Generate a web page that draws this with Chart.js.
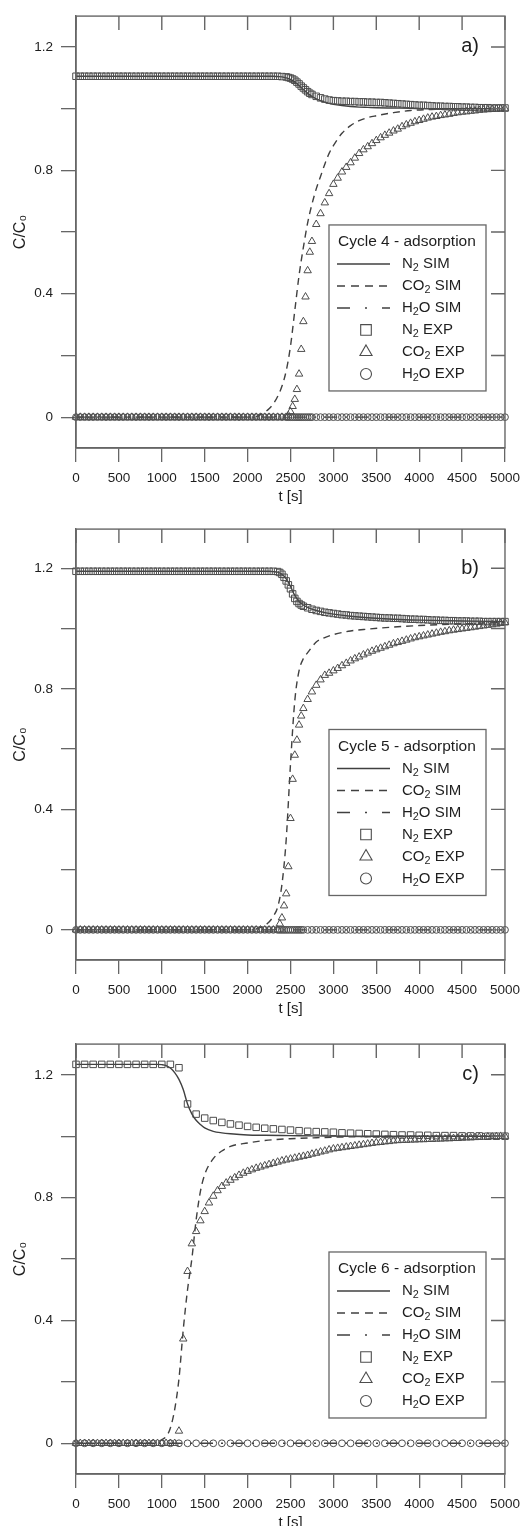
<!DOCTYPE html>
<html>
<head>
<meta charset="utf-8">
<title>C/C0 breakthrough curves, cycles 4-6</title>
<script src="https://cdn.jsdelivr.net/npm/chart.js@4.4.1/dist/chart.umd.min.js"></script>
<style>
  html, body { margin: 0; padding: 0; background: #fff; }
  body { width: 528px; height: 1526px; overflow: hidden; position: relative; }
  canvas { position: absolute; left: 0; }
</style>
</head>
<body>
<canvas id="cycle4" width="528" height="510" style="top:0px"></canvas>
<canvas id="cycle5" width="528" height="509" style="top:513px"></canvas>
<canvas id="cycle6" width="528" height="508" style="top:1028px"></canvas>
<script>
// ---- axis ticks / labels ----
const xTicks = [0, 500, 1000, 1500, 2000, 2500, 3000, 3500, 4000, 4500, 5000];
const yTicks = [0, 0.2, 0.4, 0.6, 0.8, 1.0, 1.2];
const yTickLabels = ['0', '', '0.4', '', '0.8', '', '1.2'];
const legendLabels = ['N2 SIM', 'CO2 SIM', 'H2O SIM', 'N2 EXP', 'CO2 EXP', 'H2O EXP'];

// ---- cycle 4 (a) ----
const timeA = [0,50,100,150,200,250,300,350,400,450,
  500,550,600,650,700,750,800,850,900,950,
  1000,1050,1100,1150,1200,1250,1300,1350,1400,1450,
  1500,1550,1600,1650,1700,1750,1800,1850,1900,1950,
  2000,2050,2100,2150,2200,2250,2300,2350,2400,2450,
  2475,2500,2525,2550,2575,2600,2625,2650,2675,2700,2725,2750,
  2800,2850,2900,2950,3000,3050,3100,3150,3200,3250,
  3300,3350,3400,3450,3500,3550,3600,3650,3700,3750,
  3800,3850,3900,3950,4000,4050,4100,4150,4200,4250,
  4300,4350,4400,4450,4500,4550,4600,4650,4700,4750,
  4800,4850,4900,4950,5000];
const n2ExpA = [1.105,1.105,1.105,1.105,1.105,1.105,1.105,1.105,1.105,1.105,
  1.105,1.105,1.105,1.105,1.105,1.105,1.105,1.105,1.105,1.105,
  1.105,1.105,1.105,1.105,1.105,1.105,1.105,1.105,1.105,1.105,
  1.105,1.105,1.105,1.105,1.105,1.105,1.105,1.105,1.105,1.105,
  1.105,1.105,1.105,1.105,1.105,1.105,1.105,1.105,1.104,1.103,
  1.101,1.099,1.096,1.092,1.086,1.08,1.073,1.067,1.061,1.055,1.05,1.046,
  1.04,1.035,1.031,1.028,1.026,1.025,1.024,1.024,1.023,1.023,
  1.022,1.022,1.021,1.021,1.02,1.02,1.019,1.018,1.017,1.016,
  1.015,1.014,1.013,1.012,1.011,1.011,1.01,1.009,1.008,1.008,
  1.007,1.007,1.006,1.006,1.005,1.005,1.004,1.004,1.003,1.003,
  1.003,1.002,1.002,1.002,1.002];
const co2ExpA = [0,0,0,0,0,0,0,0,0,0,
  0,0,0,0,0,0,0,0,0,0,
  0,0,0,0,0,0,0,0,0,0,
  0,0,0,0,0,0,0,0,0,0,
  0,0,0,0,0,0,0,0,0,0,
  0.005,0.018,0.035,0.058,0.09,0.14,0.22,0.31,0.39,0.475,0.535,0.57,
  0.625,0.66,0.695,0.725,0.755,0.775,0.795,0.81,0.825,0.84,
  0.855,0.867,0.877,0.887,0.897,0.906,0.914,0.921,0.928,0.934,
  0.942,0.948,0.953,0.958,0.962,0.966,0.97,0.973,0.975,0.978,
  0.98,0.982,0.985,0.987,0.989,0.99,0.992,0.993,0.995,0.996,
  0.997,0.998,0.999,1.0,1.0];
const h2oExpA = [0,0,0,0,0,0,0,0,0,0,
  0,0,0,0,0,0,0,0,0,0,
  0,0,0,0,0,0,0,0,0,0,
  0,0,0,0,0,0,0,0,0,0,
  0,0,0,0,0,0,0,0,0,0,
  0,0,0,0,0,0,0,0,0,0,0,0,
  0,0,0,0,0,0,0,0,0,0,
  0,0,0,0,0,0,0,0,0,0,
  0,0,0,0,0,0,0,0,0,0,
  0,0,0,0,0,0,0,0,0,0,
  0,0,0,0,0];
const simTimeA = [0,1000,2000,2100,2150,2200,2250,2300,2350,2400,2450,2500,2550,2600,2650,2700,
  2750,2800,2850,2900,2950,3000,3100,3200,3300,3400,3500,3700,3900,4200,4500,5000];
const n2SimA = [1.105,1.105,1.105,1.105,1.105,1.105,1.105,1.105,1.104,1.103,1.1,1.095,1.087,1.075,1.062,1.05,
  1.04,1.032,1.026,1.021,1.017,1.014,1.01,1.007,1.005,1.004,1.003,1.002,1.001,1.0,1.0,1.0];
const co2SimA = [0,0,0,0.002,0.008,0.016,0.027,0.043,0.067,0.1,0.15,0.23,0.345,0.46,0.55,0.63,
  0.69,0.74,0.78,0.82,0.855,0.88,0.92,0.945,0.961,0.971,0.977,0.987,0.994,0.998,1.0,1.0];
const h2oSimA = [0,0,0,0,0,0,0,0,0,0,0,0,0,0,0,0,
  0,0,0,0,0,0,0,0,0,0,0,0,0,0,0,0];

// ---- cycle 5 (b) ----
const timeB = [0,50,100,150,200,250,300,350,400,450,
  500,550,600,650,700,750,800,850,900,950,
  1000,1050,1100,1150,1200,1250,1300,1350,1400,1450,
  1500,1550,1600,1650,1700,1750,1800,1850,1900,1950,
  2000,2050,2100,2150,2200,2250,2300,2350,
  2375,2400,2425,2450,2475,2500,2525,2550,2575,2600,2625,2650,
  2700,2750,2800,2850,2900,2950,3000,3050,3100,3150,
  3200,3250,3300,3350,3400,3450,3500,3550,3600,3650,
  3700,3750,3800,3850,3900,3950,4000,4050,4100,4150,
  4200,4250,4300,4350,4400,4450,4500,4550,4600,4650,
  4700,4750,4800,4850,4900,4950,5000];
const n2ExpB = [1.19,1.19,1.19,1.19,1.19,1.19,1.19,1.19,1.19,1.19,
  1.19,1.19,1.19,1.19,1.19,1.19,1.19,1.19,1.19,1.19,
  1.19,1.19,1.19,1.19,1.19,1.19,1.19,1.19,1.19,1.19,
  1.19,1.19,1.19,1.19,1.19,1.19,1.19,1.19,1.19,1.19,
  1.19,1.19,1.19,1.19,1.19,1.19,1.19,1.189,
  1.186,1.18,1.17,1.158,1.145,1.132,1.115,1.1,1.09,1.083,1.078,1.074,
  1.069,1.064,1.06,1.057,1.054,1.052,1.05,1.048,1.046,1.045,
  1.043,1.042,1.041,1.04,1.039,1.038,1.037,1.036,1.035,1.035,
  1.034,1.034,1.033,1.032,1.031,1.031,1.03,1.03,1.029,1.028,
  1.028,1.027,1.027,1.026,1.026,1.025,1.025,1.025,1.024,1.024,
  1.024,1.023,1.023,1.023,1.023,1.023,1.023];
const co2ExpB = [0,0,0,0,0,0,0,0,0,0,
  0,0,0,0,0,0,0,0,0,0,
  0,0,0,0,0,0,0,0,0,0,
  0,0,0,0,0,0,0,0,0,0,
  0,0,0,0,0,0,0,0,
  0.02,0.04,0.08,0.12,0.21,0.37,0.5,0.58,0.63,0.68,0.71,0.735,
  0.765,0.79,0.812,0.83,0.845,0.852,0.86,0.868,0.877,0.885,
  0.893,0.9,0.906,0.913,0.919,0.925,0.93,0.935,0.94,0.945,
  0.95,0.954,0.958,0.962,0.966,0.97,0.973,0.976,0.979,0.982,
  0.985,0.988,0.99,0.993,0.995,0.997,0.999,1.001,1.003,1.005,
  1.007,1.009,1.011,1.013,1.015,1.017,1.02];
const h2oExpB = [0,0,0,0,0,0,0,0,0,0,
  0,0,0,0,0,0,0,0,0,0,
  0,0,0,0,0,0,0,0,0,0,
  0,0,0,0,0,0,0,0,0,0,
  0,0,0,0,0,0,0,0,
  0,0,0,0,0,0,0,0,0,0,0,0,
  0,0,0,0,0,0,0,0,0,0,
  0,0,0,0,0,0,0,0,0,0,
  0,0,0,0,0,0,0,0,0,0,
  0,0,0,0,0,0,0,0,0,0,
  0,0,0,0,0,0,0];
const simTimeB = [0,1000,2000,2100,2150,2200,2250,2300,2350,2400,2450,2500,2550,2600,2650,2700,
  2800,2900,3000,3200,3400,3700,4000,4500,5000];
const n2SimB = [1.19,1.19,1.19,1.19,1.19,1.19,1.19,1.189,1.187,1.18,1.165,1.14,1.11,1.09,1.078,1.07,
  1.06,1.053,1.048,1.041,1.036,1.031,1.028,1.025,1.023];
const co2SimB = [0,0,0,0.003,0.008,0.015,0.026,0.045,0.075,0.15,0.3,0.55,0.76,0.86,0.9,0.92,
  0.955,0.97,0.98,0.992,0.998,1.005,1.01,1.016,1.02];
const h2oSimB = [0,0,0,0,0,0,0,0,0,0,0,0,0,0,0,0,
  0,0,0,0,0,0,0,0,0];

// ---- cycle 6 (c) ----
const timeC = [0,100,200,300,400,500,600,700,800,900,
  1000,1100,1200,1300,1400,1500,1600,1700,1800,1900,
  2000,2100,2200,2300,2400,2500,2600,2700,2800,2900,
  3000,3100,3200,3300,3400,3500,3600,3700,3800,3900,
  4000,4100,4200,4300,4400,4500,4600,4700,4800,4900,
  5000];
const n2ExpC = [1.234,1.234,1.234,1.234,1.234,1.234,1.234,1.234,1.234,1.234,
  1.234,1.234,1.223,1.105,1.072,1.059,1.051,1.045,1.04,1.036,
  1.032,1.029,1.026,1.024,1.022,1.02,1.018,1.016,1.015,1.014,
  1.013,1.011,1.01,1.009,1.008,1.007,1.006,1.005,1.004,1.004,
  1.003,1.003,1.002,1.002,1.002,1.001,1.001,1.001,1.0,1.0,
  1.0];
const h2oExpC = [0,0,0,0,0,0,0,0,0,0,
  0,0,0,0,0,0,0,0,0,0,
  0,0,0,0,0,0,0,0,0,0,
  0,0,0,0,0,0,0,0,0,0,
  0,0,0,0,0,0,0,0,0,0,
  0];
const timeC50 = [0,50,100,150,200,250,300,350,400,450,
  500,550,600,650,700,750,800,850,900,950,
  1000,1050,1100,1150,1200,1250,1300,1350,1400,1450,
  1500,1550,1600,1650,1700,1750,1800,1850,1900,1950,
  2000,2050,2100,2150,2200,2250,2300,2350,2400,2450,
  2500,2550,2600,2650,2700,2750,2800,2850,2900,2950,
  3000,3050,3100,3150,3200,3250,3300,3350,3400,3450,
  3500,3550,3600,3650,3700,3750,3800,3850,3900,3950,
  4000,4050,4100,4150,4200,4250,4300,4350,4400,4450,
  4500,4550,4600,4650,4700,4750,4800,4850,4900,4950,
  5000];
const co2ExpC = [0,0,0,0,0,0,0,0,0,0,
  0,0,0,0,0,0,0,0,0,0,
  0,0,0,0,0.04,0.34,0.56,0.65,0.69,0.725,
  0.755,0.783,0.805,0.823,0.837,0.848,0.857,0.865,0.873,0.88,
  0.886,0.891,0.896,0.9,0.904,0.908,0.912,0.916,0.92,0.923,
  0.926,0.929,0.932,0.935,0.938,0.942,0.945,0.949,0.952,0.956,
  0.959,0.961,0.963,0.965,0.967,0.969,0.971,0.973,0.975,0.977,
  0.979,0.98,0.982,0.983,0.985,0.986,0.987,0.987,0.988,0.988,
  0.989,0.989,0.99,0.99,0.991,0.991,0.992,0.992,0.993,0.993,
  0.994,0.995,0.995,0.996,0.997,0.997,0.998,0.999,0.999,1.0,
  1.0];
const simTimeC = [0,500,900,950,1000,1050,1100,1150,1200,1250,1300,1350,1400,1450,1500,1600,
  1700,1800,2000,2200,2500,2800,3200,3600,4000,5000];
const n2SimC = [1.234,1.234,1.234,1.234,1.233,1.23,1.222,1.207,1.185,1.152,1.105,1.073,1.052,1.038,1.027,1.016,
  1.011,1.008,1.004,1.003,1.002,1.001,1.0,1.0,1.0,1.0];
const co2SimC = [0,0,0,0.002,0.012,0.022,0.05,0.11,0.21,0.37,0.5,0.6,0.727,0.82,0.875,0.927,
  0.952,0.967,0.978,0.986,0.992,0.995,0.998,1.0,1.0,1.0];
const h2oSimC = [0,0,0,0,0,0,0,0,0,0,0,0,0,0,0,0,
  0,0,0,0,0,0,0,0,0,0];

// ---- styling ----
const FONT = '"Liberation Sans", Arial, Helvetica, sans-serif';
const INK = '#1e1e1e';
const AXIS = '#666';
const LINE = '#404040';
const MARK = '#4d4d4d';

function pts(xs, ys) {
  return xs.map((x, i) => ({ x: x, y: ys[i] }));
}

// chemical formulas: digit right after a capital letter goes down as subscript
function drawChem(ctx, text, x, y, size) {
  const parts = text.split(/(?<=[A-Z])(\d)/);
  parts.forEach((p, i) => {
    const sub = i % 2 === 1;
    ctx.font = (sub ? size * 0.72 : size) + 'px ' + FONT;
    ctx.fillText(p, x, sub ? y + size * 0.3 : y);
    x += ctx.measureText(p).width;
  });
}

// frame, mirrored ticks on top/right, panel letter and boxed legend
const panelDecor = {
  id: 'panelDecor',
  afterDraw(chart, args, o) {
    const { ctx, chartArea: a, scales: { x, y } } = chart;
    ctx.save();
    ctx.strokeStyle = AXIS;
    ctx.lineWidth = 1.4;
    ctx.strokeRect(a.left, a.top, a.right - a.left, a.bottom - a.top);
    ctx.beginPath();
    x.ticks.forEach(t => {
      const px = x.getPixelForValue(t.value);
      ctx.moveTo(px, a.top);
      ctx.lineTo(px, a.top + 14);
    });
    y.ticks.forEach(t => {
      const py = y.getPixelForValue(t.value);
      ctx.moveTo(a.right, py);
      ctx.lineTo(a.right - 14, py);
    });
    ctx.stroke();

    ctx.fillStyle = INK;
    ctx.textAlign = 'right';
    ctx.textBaseline = 'middle';
    ctx.font = '20px ' + FONT;
    ctx.fillText(o.letter, a.right - 26, y.getPixelForValue(1.2));

    // legend box
    const L = a.left + 253, T = y.getPixelForValue(o.legendTop), W = 157, H = 166;
    ctx.fillStyle = '#fff';
    ctx.fillRect(L, T, W, H);
    ctx.strokeStyle = AXIS;
    ctx.lineWidth = 1.3;
    ctx.strokeRect(L, T, W, H);
    ctx.textAlign = 'left';
    ctx.fillStyle = INK;
    drawChem(ctx, o.title, L + 9, T + 17, 15.5);
    chart.data.datasets.forEach((ds, i) => {
      const cy = T + 39 + i * 22;
      if (ds.showLine) {
        ctx.strokeStyle = ds.borderColor;
        ctx.lineWidth = ds.borderWidth;
        ctx.setLineDash(ds.legendDash || []);
        ctx.beginPath();
        ctx.moveTo(L + 8, cy);
        ctx.lineTo(L + 61, cy);
        ctx.stroke();
        ctx.setLineDash([]);
      } else {
        ctx.strokeStyle = ds.pointBorderColor;
        ctx.fillStyle = 'rgba(0,0,0,0)';
        ctx.lineWidth = 1.1;
        Chart.helpers.drawPoint(ctx, { pointStyle: ds.pointStyle, radius: ds.legendRadius, borderWidth: 1.1, rotation: 0 }, L + 37, cy);
      }
      ctx.fillStyle = INK;
      drawChem(ctx, ds.label, L + 73, cy, 15);
    });
    ctx.restore();
  }
};

function buildChart(id, p) {
  const lineSet = (label, ys, dash, legendDash) => ({
    label: label, data: pts(p.simTime, ys), showLine: true, borderColor: LINE, borderWidth: 1.4,
    borderDash: dash, legendDash: legendDash, pointRadius: 0, order: 1, cubicInterpolationMode: 'monotone'
  });
  const markSet = (label, xs, ys, style, r, lr) => ({
    label: label, data: pts(xs, ys), showLine: false, pointStyle: style, pointRadius: r, legendRadius: lr,
    pointBorderWidth: 1, borderColor: MARK, pointBorderColor: MARK,
    backgroundColor: 'rgba(0,0,0,0)', pointBackgroundColor: 'rgba(0,0,0,0)', order: 0, clip: false
  });
  const datasets = [
    lineSet(legendLabels[0], p.n2Sim, [], []),
    lineSet(legendLabels[1], p.co2Sim, [7, 5], [8, 6]),
    lineSet(legendLabels[2], p.h2oSim, [13, 8, 2, 8], [13, 15, 2, 15]),
    markSet(legendLabels[3], p.n2Time, p.n2Exp, 'rect', 4.6, 7.5),
    markSet(legendLabels[4], p.co2Time, p.co2Exp, 'triangle', 4.3, 7),
    markSet(legendLabels[5], p.h2oTime, p.h2oExp, 'circle', 3.4, 5.5)
  ];

  return new Chart(document.getElementById(id), {
    type: 'scatter',
    data: { datasets: datasets },
    options: {
      responsive: false,
      animation: false,
      events: [],
      layout: { padding: { top: 14, right: 22, bottom: 0, left: 0 } },
      plugins: {
        legend: { display: false },
        tooltip: { enabled: false },
        panelDecor: { letter: p.letter, title: p.title, legendTop: p.legendTop }
      },
      scales: {
        x: {
          type: 'linear', min: 0, max: 5000,
          afterBuildTicks: s => { s.ticks = xTicks.map(v => ({ value: v })); },
          afterFit: s => { s.height = 62; },
          grid: { drawOnChartArea: false, drawTicks: true, tickLength: 14, color: AXIS, lineWidth: 1.3 },
          border: { display: true, color: AXIS, width: 1.4 },
          ticks: { color: INK, font: { family: FONT, size: 13.5 }, padding: 8, maxRotation: 0, autoSkip: false,
                   callback: v => String(v) },
          title: { display: true, text: 't [s]', color: INK, font: { family: FONT, size: 15 }, padding: { top: 0, bottom: 4 } }
        },
        y: {
          type: 'linear', min: p.yMin, max: p.yMax,
          afterBuildTicks: s => { s.ticks = yTicks.map(v => ({ value: v })); },
          afterFit: s => { s.width = 76; },
          grid: { drawOnChartArea: false, drawTicks: true, tickLength: 15, color: AXIS, lineWidth: 1.3 },
          border: { display: true, color: AXIS, width: 1.4 },
          ticks: { color: INK, font: { family: FONT, size: 13.5 }, padding: 8, autoSkip: false,
                   callback: (v, i) => yTickLabels[i] },
          title: { display: true, text: 'C/C₀', color: INK, font: { family: FONT, size: 16 }, padding: { top: 11, bottom: 0 } }
        }
      }
    },
    plugins: [panelDecor]
  });
}

buildChart('cycle4', {
  letter: 'a)', title: 'Cycle 4 - adsorption', yMin: -0.1, yMax: 1.3, legendTop: 0.623,
  simTime: simTimeA, n2Sim: n2SimA, co2Sim: co2SimA, h2oSim: h2oSimA,
  n2Time: timeA, n2Exp: n2ExpA, co2Time: timeA, co2Exp: co2ExpA, h2oTime: timeA, h2oExp: h2oExpA
});
buildChart('cycle5', {
  letter: 'b)', title: 'Cycle 5 - adsorption', yMin: -0.1, yMax: 1.33, legendTop: 0.665,
  simTime: simTimeB, n2Sim: n2SimB, co2Sim: co2SimB, h2oSim: h2oSimB,
  n2Time: timeB, n2Exp: n2ExpB, co2Time: timeB, co2Exp: co2ExpB, h2oTime: timeB, h2oExp: h2oExpB
});
buildChart('cycle6', {
  letter: 'c)', title: 'Cycle 6 - adsorption', yMin: -0.1, yMax: 1.3, legendTop: 0.623,
  simTime: simTimeC, n2Sim: n2SimC, co2Sim: co2SimC, h2oSim: h2oSimC,
  n2Time: timeC, n2Exp: n2ExpC, co2Time: timeC50, co2Exp: co2ExpC, h2oTime: timeC, h2oExp: h2oExpC
});
</script>
</body>
</html>
